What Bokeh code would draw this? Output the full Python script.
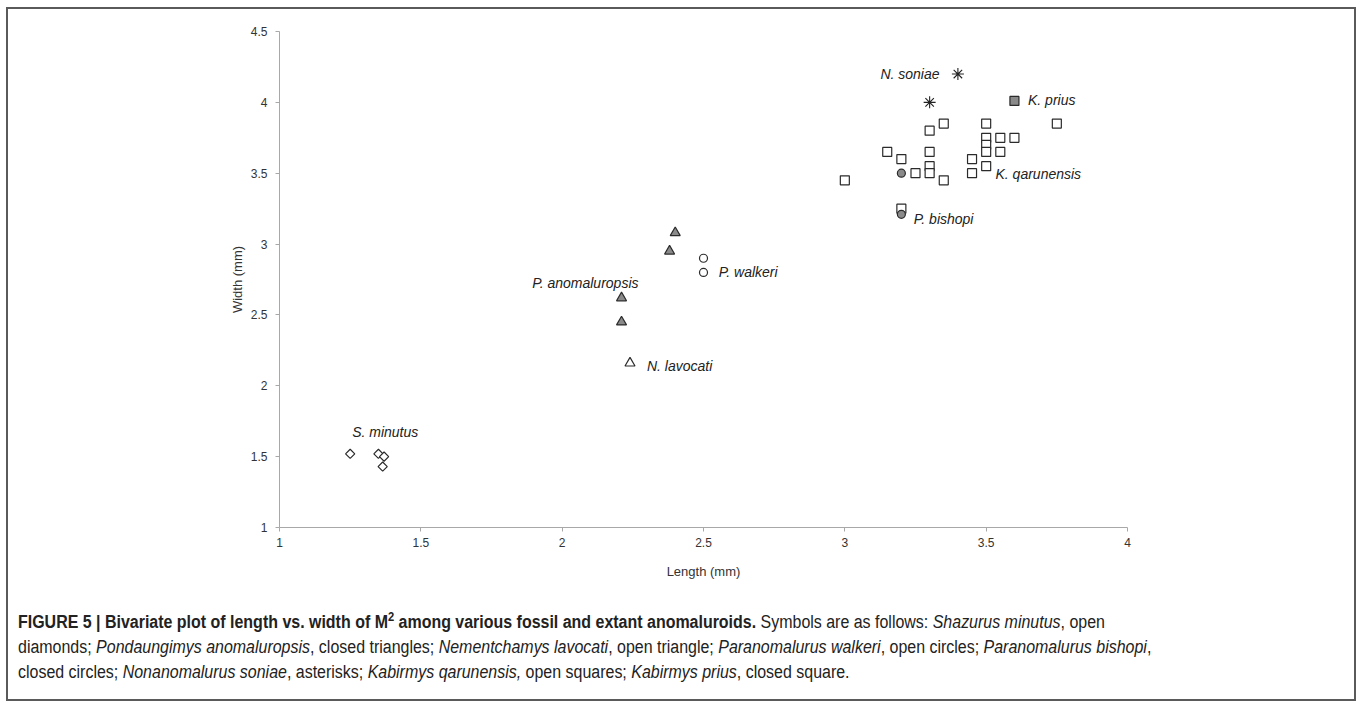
from bokeh.plotting import figure
from bokeh.models import FixedTicker, Div, ColumnDataSource
from bokeh.layouts import column
from bokeh.embed import file_html
from bokeh.resources import INLINE
from bokeh.core.properties import value

# ---------------- data ----------------
# Shazurus minutus (open diamonds)
smin_len = [1.25, 1.35, 1.37, 1.365]
smin_wid = [1.52, 1.52, 1.50, 1.43]
# Pondaungimys anomaluropsis (closed triangles)
pano_len = [2.40, 2.38, 2.21, 2.21]
pano_wid = [3.08, 2.95, 2.62, 2.45]
# Nementchamys lavocati (open triangle)
nlav_len = [2.24]
nlav_wid = [2.16]
# Paranomalurus walkeri (open circles)
pwal_len = [2.50, 2.50]
pwal_wid = [2.90, 2.80]
# Paranomalurus bishopi (closed circles)
pbis_len = [3.20, 3.20]
pbis_wid = [3.50, 3.21]
# Nonanomalurus soniae (asterisks)
nson_len = [3.40, 3.30]
nson_wid = [4.20, 4.00]
# Kabirmys qarunensis (open squares)
kqar_len = [3.00, 3.15, 3.20, 3.25, 3.30, 3.35, 3.30, 3.30, 3.30, 3.35, 3.20,
            3.45, 3.45, 3.50, 3.50, 3.50, 3.50, 3.50, 3.55, 3.55, 3.60, 3.75]
kqar_wid = [3.45, 3.65, 3.60, 3.50, 3.80, 3.85, 3.65, 3.55, 3.50, 3.45, 3.25,
            3.60, 3.50, 3.85, 3.75, 3.70, 3.65, 3.55, 3.75, 3.65, 3.75, 3.85]
# Kabirmys prius (closed square)
kpri_len = [3.60]
kpri_wid = [4.01]

# species labels (anchor in data units)
lab_text = ["N. soniae", "K. prius", "K. qarunensis", "P. bishopi",
            "P. walkeri", "P. anomaluropsis", "N. lavocati", "S. minutus"]
lab_x = [3.335, 3.648, 3.533, 3.244, 2.554, 2.27, 2.30, 1.257]
lab_y = [4.20, 4.018, 3.491, 3.178, 2.801, 2.722, 2.143, 1.672]
lab_align = ["right", "left", "left", "left", "left", "right", "left", "left"]

x_ticks = [1, 1.5, 2, 2.5, 3, 3.5, 4]
x_tick_labels = ["1", "1.5", "2", "2.5", "3", "3.5", "4"]
y_ticks = [1, 1.5, 2, 2.5, 3, 3.5, 4, 4.5]
y_tick_labels = ["1", "1.5", "2", "2.5", "3", "3.5", "4", "4.5"]

EDGE = "#2b2b2b"
FILL = "#8a8a8a"
FONT = "Liberation Sans"

p = figure(width=1340, height=580, x_range=(1, 4), y_range=(1, 4.5),
           output_backend="svg", toolbar_location=None,
           min_border_left=271, min_border_right=221,
           min_border_top=22, min_border_bottom=62)
p.outline_line_color = None
p.xgrid.visible = False
p.ygrid.visible = False
p.background_fill_color = "white"
p.border_fill_color = "white"

for ax, ticks, labels in ((p.xaxis[0], x_ticks, x_tick_labels),
                          (p.yaxis[0], y_ticks, y_tick_labels)):
    ax.ticker = FixedTicker(ticks=ticks)
    ax.major_label_overrides = {t: l for t, l in zip(ticks, labels)}
    ax.minor_tick_line_color = None
    ax.axis_line_color = "#a8a8a8"
    ax.major_tick_line_color = "#a8a8a8"
    ax.major_tick_in = 0
    ax.major_tick_out = 4
    ax.major_label_text_font = FONT
    ax.major_label_text_font_size = "12px"
    ax.major_label_text_color = "#333333"
    ax.axis_label_text_font = FONT
    ax.axis_label_text_font_size = "13px"
    ax.axis_label_text_font_style = "normal"
    ax.axis_label_text_color = "#333333"

p.xaxis.axis_label = "Length (mm)"
p.yaxis.axis_label = "Width (mm)"
p.xaxis.major_label_standoff = 6
p.xaxis.axis_label_standoff = 14
p.yaxis.major_label_standoff = 8
p.yaxis.axis_label_standoff = 3

# markers
p.scatter(kqar_len, kqar_wid, marker="square", size=9, fill_color="white",
          line_color=EDGE, line_width=1.2)
p.scatter(kpri_len, kpri_wid, marker="square", size=9, fill_color=FILL,
          line_color=EDGE, line_width=1.2)
p.scatter(pbis_len, pbis_wid, marker="circle", size=8, fill_color=FILL,
          line_color=EDGE, line_width=1.2)
p.scatter(pwal_len, pwal_wid, marker="circle", size=8, fill_color="white",
          line_color=EDGE, line_width=1.2)
p.scatter(pano_len, pano_wid, marker="triangle", size=10, fill_color=FILL,
          line_color=EDGE, line_width=1.2)
p.scatter(nlav_len, nlav_wid, marker="triangle", size=10, fill_color="white",
          line_color=EDGE, line_width=1.2)
p.scatter(smin_len, smin_wid, marker="square", angle=0.785398, size=6.5,
          fill_color="white", line_color=EDGE, line_width=1.2)
p.scatter(nson_len, nson_wid, marker="asterisk", size=12, line_color="#222222",
          line_width=1.1)

src = ColumnDataSource(dict(x=lab_x, y=lab_y, t=lab_text, a=lab_align))
p.text(x="x", y="y", text="t", text_align="a", source=src,
       text_baseline="middle", text_font=value(FONT),
       text_font_size="14px", text_font_style="italic", text_color="#222222")

caption_html = (
    "<div style='transform:scaleX(0.887);transform-origin:0 0;white-space:nowrap'>"
    "<b>FIGURE 5 | Bivariate plot of length vs. width of M<sup style='font-size:70%;line-height:0'>2</sup> "
    "among various fossil and extant anomaluroids.</b> Symbols are as follows: "
    "<i>Shazurus minutus</i>, open<br>"
    "diamonds; <i>Pondaungimys anomaluropsis</i>, closed triangles; "
    "<i>Nementchamys lavocati</i>, open triangle; <i>Paranomalurus walkeri</i>, "
    "open circles; <i>Paranomalurus bishopi</i>,<br>"
    "closed circles; <i>Nonanomalurus soniae</i>, asterisks; "
    "<i>Kabirmys qarunensis,</i> open squares; <i>Kabirmys prius</i>, closed square."
    "</div>")

caption = Div(
    text=caption_html, width=1336, height=100,
    styles={"font-family": "'Liberation Sans', sans-serif",
            "font-size": "18px", "line-height": "25px", "color": "#222222",
            "padding-left": "5px", "padding-top": "16px"})

layout = column(p, caption, spacing=0,
                styles={"border": "2px solid #5a5a5a", "background": "white",
                        "margin-left": "6px", "margin-top": "7px"})

open("out.html", "w").write(file_html(layout, INLINE))
